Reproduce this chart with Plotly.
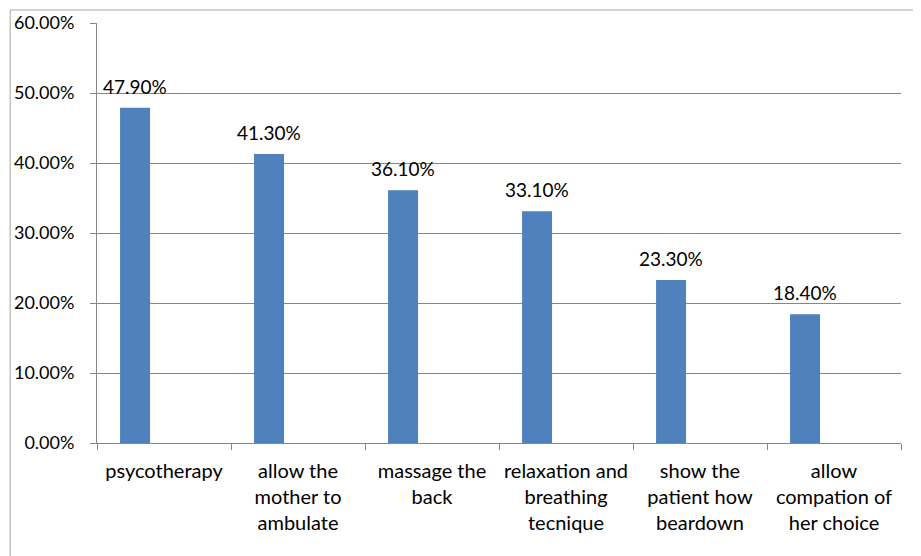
import plotly.graph_objects as go

categories = ["psycotherapy", "allow the<br>mother to<br>ambulate", "massage the<br>back",
              "relaxation and<br>breathing<br>tecnique", "show the<br>patient how<br>beardown",
              "allow<br>compation of<br>her choice"]
values = [0.479, 0.413, 0.361, 0.331, 0.233, 0.184]
value_labels = ["47.90%", "41.30%", "36.10%", "33.10%", "23.30%", "18.40%"]
y_ticks = [0, 0.1, 0.2, 0.3, 0.4, 0.5, 0.6]

FONT = "Lato"
BAR_W = 0.224
BAR_OFF = -0.328

fig = go.Figure()
fig.add_trace(go.Bar(
    x=categories, y=values, width=BAR_W, offset=BAR_OFF,
    marker=dict(color="#4F81BD", line=dict(width=0)),
    hoverinfo="skip",
))

for i, (v, t) in enumerate(zip(values, value_labels)):
    fig.add_annotation(x=i + BAR_OFF + BAR_W / 2, y=v, text=t, showarrow=False,
                       xref="x", yref="y", yanchor="bottom", yshift=8,
                       font=dict(family=FONT, size=19, color="#000000"))

# outer frame (top and left edges)
fig.add_shape(type="line", xref="paper", yref="paper", x0=-0.108, x1=1.2, y0=1.031, y1=1.031,
              line=dict(color="#A6A6A6", width=1))
fig.add_shape(type="line", xref="paper", yref="paper", x0=-0.108, x1=-0.108, y0=1.031, y1=-0.4,
              line=dict(color="#A6A6A6", width=1))

fig.update_layout(
    width=913, height=548,
    margin=dict(l=89, r=20, t=15, b=113),
    paper_bgcolor="white", plot_bgcolor="white",
    showlegend=False,
    font=dict(family=FONT, size=18, color="#000000"),
    xaxis=dict(type="category", showgrid=False, showline=True, linecolor="#868686", linewidth=1,
               ticks="outside", ticklen=6, tickcolor="#868686", tickson="boundaries",
               tickfont=dict(family=FONT, size=20, color="#000000"), ticklabelstandoff=10,
               range=[-0.5, 5.5], automargin=False),
    yaxis=dict(range=[0, 0.6], tickvals=y_ticks, tickformat=".2%", showgrid=True,
               gridcolor="#868686", gridwidth=1, showline=True, linecolor="#868686", linewidth=1,
               ticks="outside", ticklen=6, tickcolor="#868686",
               tickfont=dict(family=FONT, size=18, color="#000000"), ticklabelstandoff=12,
               zeroline=False, automargin=False),
)

fig.write_html("out.html")
